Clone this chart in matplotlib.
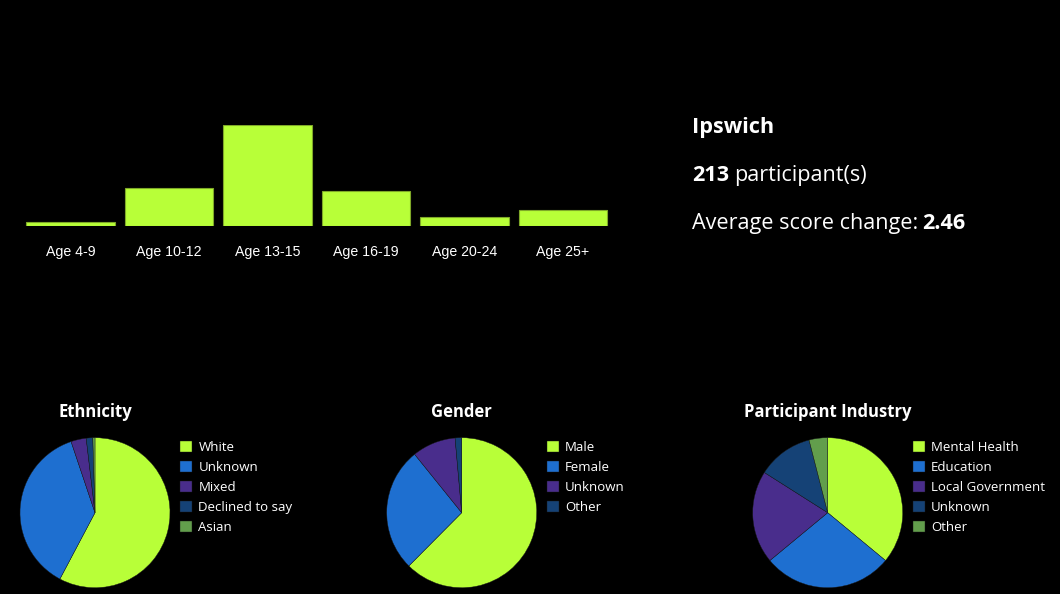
import matplotlib
matplotlib.use("Agg")
import matplotlib.pyplot as plt

# ---- data ----
age_groups = ["Age 4-9", "Age 10-12", "Age 13-15", "Age 16-19", "Age 20-24", "Age 25+"]
age_counts = [4, 40, 106, 37, 9, 17]

location = "Ipswich"
participants = 213
avg_score_change = 2.46

eth_labels = ["White", "Unknown", "Mixed", "Declined to say", "Asian"]
eth_values = [123, 79, 7, 3, 1]

gen_labels = ["Male", "Female", "Unknown", "Other"]
gen_values = [133, 57, 20, 3]

ind_labels = ["Mental Health", "Education", "Local Government", "Unknown", "Other"]
ind_values = [9, 7, 5, 3, 1]

palette = ["#b8ff38", "#1e6fd0", "#492d8c", "#154276", "#629e4c"]
LIME = palette[0]

W, H = 1060, 594
DPI = 100
FONT = "Open Sans"
BIG = 15.6

fig = plt.figure(figsize=(W / DPI, H / DPI), dpi=DPI, facecolor="black")


def px_axes(left, top, width, height):
    return fig.add_axes([left / W, 1 - (top + height) / H, width / W, height / H])


# ---- bar chart ----
axb = px_axes(21.25, 125, 591, 101)
axb.set_facecolor("black")
x = range(len(age_groups))
axb.bar(x, age_counts, width=0.9, color=LIME, edgecolor="#7fa828", linewidth=0.8)
axb.set_xlim(-0.5, len(age_groups) - 0.5)
axb.set_ylim(0, max(age_counts))
axb.set_xticks(list(x))
axb.set_xticklabels(age_groups, color="white", fontsize=10.2, family="Liberation Sans")
axb.tick_params(axis="x", length=0, pad=13.5)
axb.set_yticks([])
for s in axb.spines.values():
    s.set_visible(False)

# ---- summary text ----
fig.text(692 / W, 1 - 133 / H, location, color="white", fontsize=BIG,
         fontweight="bold", family=FONT, va="baseline", ha="left")
t1 = fig.text(692 / W, 1 - 181 / H, f"{participants}", color="white", fontsize=BIG,
              fontweight="bold", family=FONT, va="baseline", ha="left")
fig.canvas.draw()
bb = t1.get_window_extent()
fig.text(bb.x1 / W + 5 / W, 1 - 181 / H, "participant(s)", color="white",
         fontsize=BIG, family=FONT, va="baseline", ha="left")
t2 = fig.text(692 / W, 1 - 229 / H, "Average score change:", color="white", fontsize=BIG,
              family=FONT, va="baseline", ha="left")
fig.canvas.draw()
bb2 = t2.get_window_extent()
fig.text(bb2.x1 / W + 4 / W, 1 - 229 / H, f"{avg_score_change:.2f}", color="white",
         fontsize=BIG, fontweight="bold", family=FONT, va="baseline", ha="left")

# ---- pies ----
pies = [
    ("Ethnicity", eth_labels, eth_values, 95.0, 180.0),
    ("Gender", gen_labels, gen_values, 461.7, 546.7),
    ("Participant Industry", ind_labels, ind_values, 827.7, 912.7),
]
R = 75
CY = 512.7
for title, labels, values, cx, legx in pies:
    ax = px_axes(cx - R, CY - R, 2 * R, 2 * R)
    ax.set_facecolor("black")
    wedges, _ = ax.pie(values, colors=palette[:len(values)], startangle=90,
                       counterclock=False, radius=1,
                       wedgeprops=dict(edgecolor="#1a1a1a", linewidth=0.3))
    ax.set_xlim(-1, 1)
    ax.set_ylim(-1, 1)
    ax.set_aspect("equal")
    ax.axis("off")
    fig.text(cx / W, 1 - 412 / H, title, color="white", fontsize=12,
             fontweight="bold", family=FONT, ha="center", va="center")
    leg = fig.legend(wedges, labels, loc="upper left",
                     bbox_to_anchor=(legx / W, 1 - 441 / H),
                     frameon=False, borderpad=0, borderaxespad=0,
                     handlelength=0.9, handleheight=0.9, handletextpad=0.5,
                     labelspacing=0.53,
                     prop=dict(family=FONT, size=9.5))
    for txt in leg.get_texts():
        txt.set_color("white")

fig.savefig("out.png", dpi=DPI, facecolor="black")
